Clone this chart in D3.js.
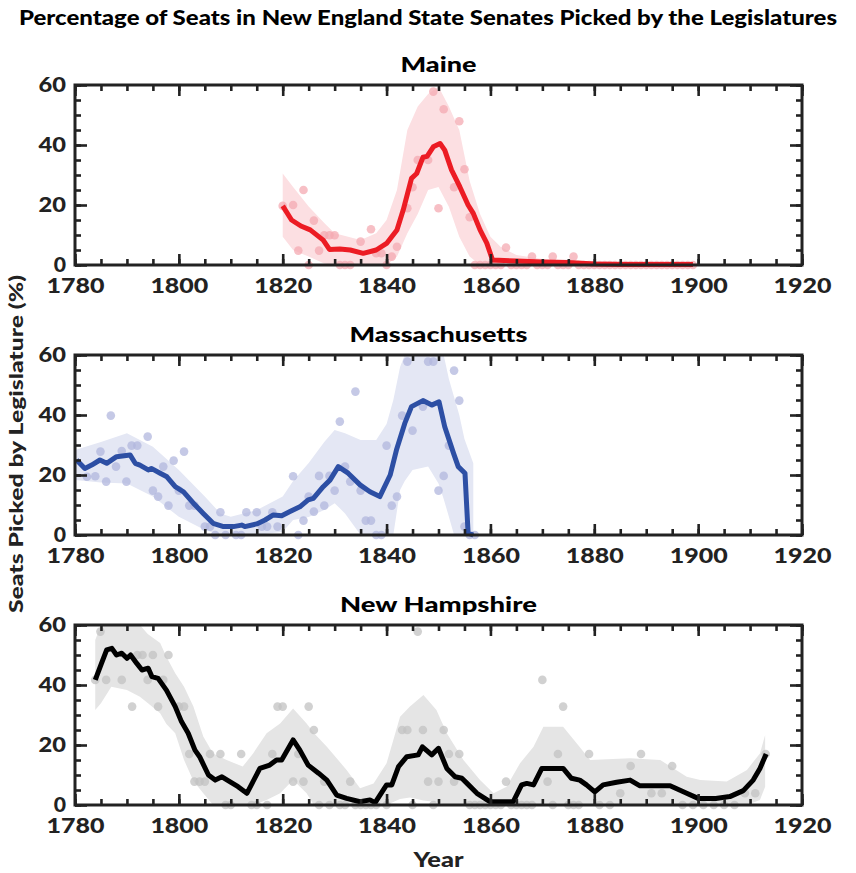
<!DOCTYPE html>
<html>
<head>
<meta charset="utf-8">
<script src="https://cdn.jsdelivr.net/npm/d3@7/dist/d3.min.js"></script>
<style>
  html, body { margin: 0; padding: 0; background: #fff; }
  svg { display: block; font-family: Lato, "Open Sans", "DejaVu Sans", sans-serif; }
</style>
</head>
<body>
<svg id="chart" width="856" height="873"></svg>
<script>
// ---------- DATA ----------
const chartTitle = "Percentage of Seats in New England State Senates Picked by the Legislatures";
const stateNames = ["Maine", "Massachusetts", "New Hampshire"];
const xTickYears = [1780, 1800, 1820, 1840, 1860, 1880, 1900, 1920];
const yTickValues = [0, 20, 40, 60];

// Maine
const maineLineYears = [1820,1821.7,1823.5,1825.3,1827.8,1829,1831,1833,1835.5,1838,1840,1842,1843.2,1844.8,1845.8,1847,1847.8,1849,1850.3,1851.2,1852.5,1854.1,1855.7,1856.7,1858,1859.3,1860.4,1865,1870,1875,1880,1885,1890,1899];
const maineLineValues = [19.7,15,13,11.7,8.3,5.2,5.3,5,3.9,5,7.2,11.7,18.3,28.9,30.5,35.9,36.2,39.4,40.5,38.3,31.7,26.1,20,17.2,11.7,7.3,1.7,1.3,1,0.8,0.3,0.2,0.2,0.2];
const maineBandYears = [1820,1822,1825,1828,1830,1835,1838,1840,1842,1844,1846,1848,1850,1852,1854,1856,1858,1860,1862,1865,1870,1880,1899];
const maineBandUpper = [30.5,26,19.5,14,10.6,8.3,10.6,15,25,45,52.8,57,59.4,52.8,45,28,17,9.4,6,3.3,2,1.2,0.5];
const maineBandLower = [9.4,5,2.8,0.5,0,0,0,0,2.8,10.6,17,25,26,19.4,9.4,2.8,0,0,0,0,0,0,0];
const maineDotYears = [1820,1822,1823,1824,1825,1826,1827,1828,1829,1830,1831,1832,1833,1835,1837,1838,1839,1840,1841,1842,1844,1845,1846,1848,1849,1850,1851,1853,1854,1855,1856,1857,1858,1859,1860,1861,1862,1863,1864,1865,1866,1867,1868,1869,1870,1871,1872,1873,1874,1875,1876,1877,1878,1879,1880,1881,1882,1883,1884,1885,1886,1887,1888,1889,1890,1891,1892,1893,1894,1895,1896,1897,1898,1899];
const maineDotValues = [19.7,20,4.8,25,0,14.8,4.8,9.9,9.9,9.9,0,0,0,7.8,11.9,3.9,3.9,0,2.8,6.1,18.9,25.9,35,35,57.8,18.9,51.9,25.9,47.9,31.9,15.9,0,0,0,0,0,0,5.8,0,0,0,0,2.8,0,0,0,2.8,0,0,0,2.8,0,0,0,0,0,0,0,0,0,0,0,0,0,0,0,0,0,0,0,0,0,0,0];

// Massachusetts
const massLineYears = [1780.3,1781.9,1783.2,1784.8,1786.1,1788,1790.6,1791.6,1792.5,1794.1,1794.7,1796.4,1797.7,1799.3,1800.9,1802.8,1804.7,1806.6,1808.6,1810.5,1812.1,1812.7,1815,1816.6,1818.2,1819.8,1821.4,1823.3,1824.9,1825.9,1827.8,1829.1,1830.7,1832.6,1834.9,1836.8,1838.7,1840.7,1841.9,1843.5,1844.8,1847,1848.7,1850.1,1851.2,1852.9,1853.8,1855.1,1855.7,1856.7];
const massLineValues = [25,22.2,23.3,25,23.9,26.1,26.7,23.9,23.3,21.7,22.2,20.6,19.4,16.1,14.4,10.6,7.2,3.9,2.8,2.8,3.3,2.8,3.7,5,6.7,6.4,7.8,9.4,11.7,12.2,16.1,18.3,22.8,20.6,16.7,14.4,12.8,20,28.3,37.2,42.8,44.8,43.3,44.4,36.1,27.2,22.8,20.6,0.6,0];
const massBandYears = [1780,1785,1790,1795,1800,1805,1808,1810,1815,1820,1822,1825,1828,1830,1832,1835,1838,1840,1841.3,1842.6,1843.5,1845,1848,1850,1851,1852,1853,1854,1855,1856.7];
const massBandUpper = [28.3,31,33.9,29.4,21.7,12.8,7.2,6.1,8.3,12.8,18,24,31,35,33.9,31.7,31.7,37,45,56,60,60,60,60,60,52,46,40,32,23.9];
const massBandLower = [18.3,17.5,17.2,12.8,6.1,1.7,0,0,0,1.1,5,6,8.3,10.6,7.2,0,0,0,0,15,18,21.7,22.8,17.2,12,6.1,0,0,0,0];
const massDotYears = [1782.3,1783.9,1784.9,1786,1786.9,1787.9,1789,1789.9,1790.9,1792,1794,1795,1796,1797,1798,1799,1800,1801,1802,1803,1805,1806,1807,1808,1809,1811,1812,1813,1815,1816,1817,1818,1819,1822,1823,1824,1825,1826,1827,1828,1829,1830,1831,1832,1833,1834,1835,1836,1837,1838,1839,1840,1841,1842,1843,1844,1845,1847,1848,1849,1850,1851,1852,1853,1854,1855,1856,1857];
const massDotValues = [19.4,19.6,27.8,17.8,39.8,22.8,28,17.8,29.8,29.8,32.8,14.8,12.8,22.8,9.8,24.8,14.8,27.8,9.8,9.8,2.8,2.8,0,7.6,0,0,0,7.6,7.6,2.8,2.8,7.6,2.8,19.6,0,4.8,12.8,7.8,19.7,9.8,19.7,14.8,37.8,22.8,17.8,47.8,14.8,4.8,4.8,0,0,29.8,9.8,12.8,39.8,57.8,34.8,42.8,57.8,57.8,14.8,19.7,29.8,54.8,44.8,2.8,0,0];

// New Hampshire
const nhLineYears = [1783.9,1785.1,1786.1,1787.1,1788,1789,1790,1790.7,1791.9,1792.9,1794.1,1794.8,1796,1797.6,1799.3,1800.5,1801.8,1803.1,1804,1805.7,1807,1808.3,1809.8,1811.4,1813.1,1815.6,1817.5,1818.8,1819.8,1822,1823.3,1824.9,1826.9,1828.5,1830.4,1832.3,1834.9,1836.8,1837.8,1840,1841,1842.3,1843.9,1846.1,1846.9,1848.7,1850,1851.6,1853.2,1854.5,1855.5,1857.4,1859.9,1864.4,1866,1867,1868.3,1869.9,1874,1875.6,1877.2,1878.5,1880.1,1881.7,1884.3,1886.9,1888.8,1894.6,1897.8,1900,1903.4,1906.1,1908.7,1910.6,1911.9,1913.1];
const nhLineValues = [41.7,47.2,51.7,52.2,50,50.6,48.9,50,47.2,45,45.6,42.8,42.2,38.3,32.8,27.8,23.9,18.3,16.1,10,8.3,9.4,7.8,6.1,3.9,12.2,13.3,15,15,21.7,18.3,13.3,10.6,8.3,3.3,2.2,1.1,1.7,0.8,6.7,6.7,12.8,16.1,16.7,19.4,16.7,18.9,12.2,9.4,8.9,7.2,3.9,1.1,1.1,6.7,7.2,6.7,12.2,12.2,8.9,8.3,6.7,4.4,6.7,7.6,8.3,6.4,6.4,3.9,2.2,2.2,2.8,4.8,8.3,12.2,17];
const nhBandYears = [1783.9,1785,1787,1790,1792.5,1794,1796.4,1797.6,1799.3,1801,1802.8,1804.7,1806.6,1809.2,1812.3,1814.3,1816.9,1819.5,1822,1824.6,1826,1828.5,1832.3,1834.9,1837.5,1840,1842.6,1844.5,1847.1,1849.6,1851.6,1854.8,1858,1860.6,1863.1,1865.7,1868.3,1870.2,1874,1876.6,1879.2,1886.9,1892.7,1897.8,1900.4,1905.5,1909.4,1911.9,1912.9];
const nhBandUpper = [55,60,60,60,60,57,54,49.4,43.9,39.4,32.8,22.8,17.2,15,12.8,17.2,23.9,27.2,32.2,27.2,24,19.4,11.7,5.6,7.2,13.9,29.4,32.8,36.7,31.7,23.9,15,8.3,3.9,6.1,13.9,19.4,26.1,26.1,20.6,15,15.6,15,9.4,8.3,7.8,11.7,17.2,23.3];
const nhBandLower = [31.7,33.9,39.4,38.3,36.1,34,30.6,27,23.9,15,8,3.9,0,0,0,0,1.7,3.9,8.3,3.9,0,0,0,0,0,0,2,2.5,1.5,1,0,0,0,0,0,0,0,0.5,0.5,0,0,0,0,0,0,0,0,1.7,6.1];
const nhDotYears = [1783.9,1784.9,1786,1789,1791,1792,1793,1794,1795,1796,1797,1798,1800,1801,1802,1803,1804,1805,1806,1808,1809,1810,1812,1814,1815,1817,1818,1819,1820,1822,1823,1824,1825,1826,1827,1828,1829,1831,1832,1833,1834,1835,1836,1837,1838,1840,1843,1844,1845,1846,1847,1848,1849,1850,1851,1852,1853,1854,1856,1857,1858,1859,1860,1861,1862,1863,1864,1865,1866,1867,1868,1870,1871,1872,1873,1874,1875,1876,1877,1879,1881,1883,1885,1887,1889,1891,1893,1895,1897,1899,1901,1903,1905,1907,1909,1911,1913];
const nhDotValues = [41.7,57.8,41.7,41.7,32.8,50,50,41.7,50,32.8,41.7,50,32.8,32.8,17,7.8,7.8,7.8,17,17,0,0,17,0,0,0,17,32.8,32.8,7.8,17,7.8,32.8,25,0,7.8,0,0,0,7.8,0,0,0,0,0,0,25,25,0,57.8,25,7.8,0,7.8,25,17,7.8,17,0,0,0,0,0,0,0,7.8,0,0,0,0,0,41.7,7.8,0,17,32.8,0,0,0,17,0,0,3.9,13,17,3.9,3.9,13,0,0,0,0,0,0,3.9,3.9,17];

// ---------- DRAW ----------
const svg = d3.select("#chart");
const W = 856;
const plotLeft = 75, plotRight = 802, plotH = 180;
const panelTops = [85, 355, 625];
const ink = "#222";
const FW = 900;
const titleWidths = [76, 178, 197];

const panels = [
  { name: stateNames[0], ly: maineLineYears, lv: maineLineValues, by: maineBandYears, bu: maineBandUpper, bl: maineBandLower, dy: maineDotYears, dv: maineDotValues, line: "#ec1c24", band: "#fcdfe2", dot: "#f4a9b2" },
  { name: stateNames[1], ly: massLineYears, lv: massLineValues, by: massBandYears, bu: massBandUpper, bl: massBandLower, dy: massDotYears, dv: massDotValues, line: "#2d4fa4", band: "#e4e7f4", dot: "#b2b7de" },
  { name: stateNames[2], ly: nhLineYears, lv: nhLineValues, by: nhBandYears, bu: nhBandUpper, bl: nhBandLower, dy: nhDotYears, dv: nhDotValues, line: "#000000", band: "#e5e5e5", dot: "#c2c2c2" }
];

const x = d3.scaleLinear().domain([1780, 1920]).range([plotLeft, plotRight]);
const minorX = d3.range(1780, 1921, 5);
const minorY = d3.range(0, 61, 5);

svg.append("text")
  .attr("x", W / 2).attr("y", 25)
  .attr("text-anchor", "middle")
  .attr("font-size", 21).attr("font-weight", FW).attr("fill", "#000")
  .attr("textLength", 818).attr("lengthAdjust", "spacingAndGlyphs")
  .text(chartTitle);

panels.forEach((p, i) => {
  const top = panelTops[i];
  const y = d3.scaleLinear().domain([0, 60]).range([top + plotH, top]);
  const g = svg.append("g");

  // panel title
  g.append("text")
    .attr("x", (plotLeft + plotRight) / 2).attr("y", top - 13)
    .attr("text-anchor", "middle")
    .attr("font-size", 21).attr("font-weight", FW).attr("fill", "#000")
    .attr("textLength", titleWidths[i]).attr("lengthAdjust", "spacingAndGlyphs")
    .text(p.name);

  // band
  const bandData = p.by.map((yr, k) => ({ yr, u: p.bu[k], l: p.bl[k] }));
  g.append("path")
    .datum(bandData)
    .attr("fill", p.band)
    .attr("d", d3.area().x(d => x(d.yr)).y0(d => y(d.l)).y1(d => y(d.u)).curve(d3.curveLinear));

  // dots
  g.append("g").selectAll("circle")
    .data(p.dy.map((yr, k) => ({ yr, v: p.dv[k] })))
    .join("circle")
    .attr("cx", d => x(d.yr)).attr("cy", d => y(d.v)).attr("r", 4.3)
    .attr("fill", p.dot).attr("fill-opacity", 0.75);

  // line
  const lineData = p.ly.map((yr, k) => ({ yr, v: p.lv[k] }));
  g.append("path")
    .datum(lineData)
    .attr("fill", "none").attr("stroke", p.line).attr("stroke-width", 5)
    .attr("stroke-linejoin", "round").attr("stroke-linecap", "butt")
    .attr("d", d3.line().x(d => x(d.yr)).y(d => y(d.v)));

  // axes (ticks inward on all four sides)
  const styleAxis = sel => {
    sel.select(".domain").remove();
    sel.selectAll(".tick line").attr("stroke", ink).attr("stroke-width", 2.6);
    sel.selectAll(".tick text").attr("fill", ink).attr("font-size", 21).attr("font-weight", FW)
      .attr("font-family", "Lato, 'Open Sans', 'DejaVu Sans', sans-serif")
      .each(function () {
        const t = d3.select(this).text();
        if (t.length) {
          const w = t.length === 4 ? 58 : (t.length === 2 ? 27.5 : 12.3);
          d3.select(this).attr("textLength", w).attr("lengthAdjust", "spacingAndGlyphs");
        }
      });
  };
  const bottomY = top + plotH;
  g.append("g").attr("transform", `translate(0,${bottomY})`)
    .call(d3.axisBottom(x).tickValues(minorX).tickSize(-6).tickFormat("")).call(styleAxis);
  g.append("g").attr("transform", `translate(0,${bottomY})`)
    .call(d3.axisBottom(x).tickValues(xTickYears).tickSize(-11).tickPadding(13).tickFormat(d3.format("d"))).call(styleAxis);
  g.append("g").attr("transform", `translate(0,${top})`)
    .call(d3.axisTop(x).tickValues(minorX).tickSize(-6).tickFormat("")).call(styleAxis);
  g.append("g").attr("transform", `translate(0,${top})`)
    .call(d3.axisTop(x).tickValues(xTickYears).tickSize(-11).tickFormat("")).call(styleAxis);
  g.append("g").attr("transform", `translate(${plotLeft},0)`)
    .call(d3.axisLeft(y).tickValues(minorY).tickSize(-6).tickFormat("")).call(styleAxis);
  g.append("g").attr("transform", `translate(${plotLeft},0)`)
    .call(d3.axisLeft(y).tickValues(yTickValues).tickSize(-12).tickPadding(9).tickFormat(d3.format("d"))).call(styleAxis);
  g.append("g").attr("transform", `translate(${plotRight},0)`)
    .call(d3.axisRight(y).tickValues(minorY).tickSize(-6).tickFormat("")).call(styleAxis);
  g.append("g").attr("transform", `translate(${plotRight},0)`)
    .call(d3.axisRight(y).tickValues(yTickValues).tickSize(-12).tickFormat("")).call(styleAxis);

  // frame
  g.append("rect")
    .attr("x", plotLeft).attr("y", top)
    .attr("width", plotRight - plotLeft).attr("height", plotH)
    .attr("fill", "none").attr("stroke", ink).attr("stroke-width", 3);
});

// axis titles
svg.append("text")
  .attr("x", (plotLeft + plotRight) / 2).attr("y", 867)
  .attr("text-anchor", "middle")
  .attr("font-size", 20).attr("font-weight", FW).attr("fill", ink)
  .attr("textLength", 50).attr("lengthAdjust", "spacingAndGlyphs")
  .text("Year");

svg.append("text")
  .attr("transform", "translate(23,444) rotate(-90)")
  .attr("text-anchor", "middle")
  .attr("font-size", 19).attr("font-weight", FW).attr("fill", ink)
  .attr("textLength", 338).attr("lengthAdjust", "spacingAndGlyphs")
  .text("Seats Picked by Legislature (%)");
</script>
</body>
</html>
